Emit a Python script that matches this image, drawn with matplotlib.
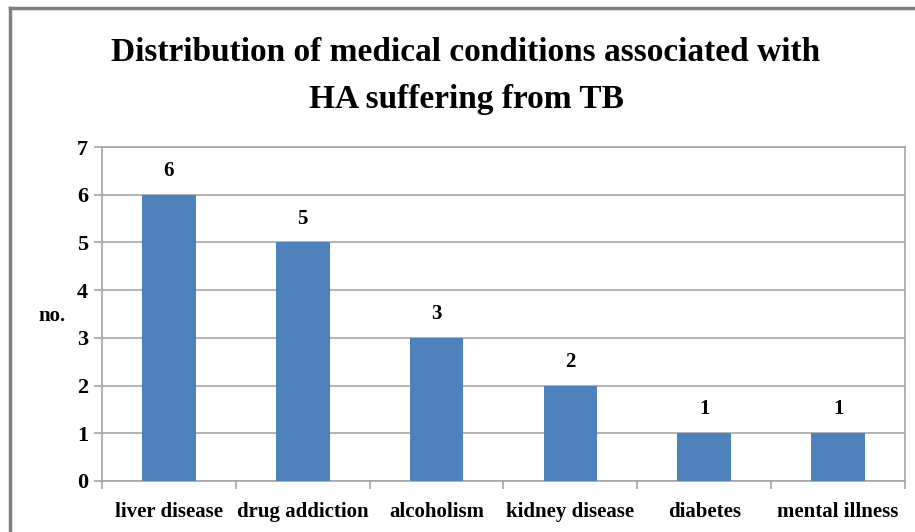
import matplotlib.pyplot as plt
import numpy as np
from matplotlib.lines import Line2D

conditions = ['liver disease', 'drug addiction', 'alcoholism',
              'kidney disease', 'diabetes', 'mental illness']
counts = [6, 5, 3, 2, 1, 1]
y_ticks = [0, 1, 2, 3, 4, 5, 6, 7]

plt.rcParams['font.family'] = ['Liberation Serif', 'DejaVu Serif']
plt.rcParams['font.weight'] = 'bold'

fig = plt.figure(figsize=(9.15, 5.32), dpi=100)
ax = fig.add_axes([102 / 915, 1 - 481 / 532, 803 / 915, 334 / 532])

grid_col = '#a6a6a6'
x = np.arange(len(conditions))
bars = ax.bar(x, counts, width=0.4, color='#4f81bd', zorder=3)

# value labels above the bars
for rect, v in zip(bars, counts):
    ax.annotate(str(v), (rect.get_x() + rect.get_width() / 2, v),
                xytext=(0, 10), textcoords='offset points',
                ha='center', va='bottom', fontsize=15, fontweight='bold')

ax.set_xlim(-0.5, len(conditions) - 0.5)
ax.set_ylim(0, 7)
ax.set_yticks(y_ticks)
ax.yaxis.grid(True, color=grid_col, linewidth=1.2, zorder=0)

# category boundaries get the tick marks, labels sit at the centres
ax.set_xticks(x)
ax.set_xticklabels(conditions, fontsize=15, fontweight='bold')
ax.set_xticks(np.arange(-0.5, len(conditions)), minor=True)
ax.tick_params(axis='x', which='major', length=0, pad=15)
ax.tick_params(axis='x', which='minor', length=6, color=grid_col, width=1.2)
ax.tick_params(axis='y', length=6, color=grid_col, width=1.2,
               labelsize=16, pad=4)
for lab in ax.get_yticklabels():
    lab.set_fontweight('bold')

for side in ['top', 'right', 'left', 'bottom']:
    ax.spines[side].set_color(grid_col)
    ax.spines[side].set_linewidth(1.2)

fig.text(52 / 915, 1 - 316 / 532, 'no.', ha='center', va='center',
         fontsize=15, fontweight='bold')

fig.text(466 / 915, 1 - 76 / 532,
         'Distribution of medical conditions associated with\nHA suffering from TB',
         ha='center', va='center', fontsize=24, fontweight='bold',
         linespacing=1.65)

# outer chart frame (only top and left edges visible in the crop)
fig.add_artist(Line2D([10 / 915, 1.0], [1 - 8 / 532, 1 - 8 / 532],
                      color='#7f7f7f', linewidth=2.5))
fig.add_artist(Line2D([10 / 915, 10 / 915], [0, 1 - 8 / 532],
                      color='#7f7f7f', linewidth=2.5))

fig.savefig('out.png', dpi=100)
